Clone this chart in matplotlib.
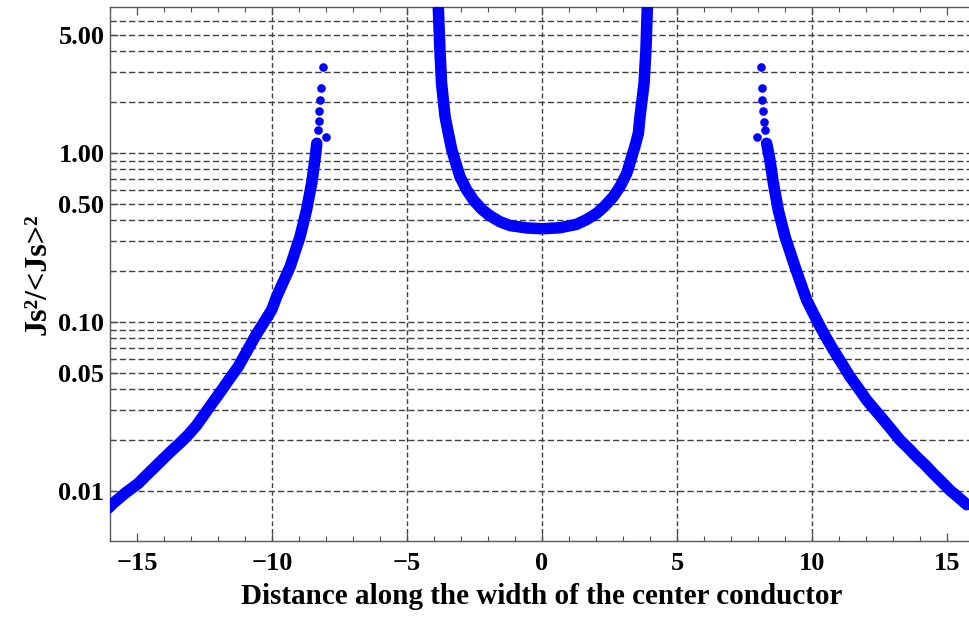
import numpy as np
import matplotlib.pyplot as plt
from matplotlib.ticker import FixedLocator, NullFormatter

# values (x along the strip, Js^2/<Js>^2)
left_x = [-16.07, -15.81, -15.44, -14.95, -14.64, -14.33, -14.03, -13.72, -13.41, -13.10,
          -12.79, -12.48, -12.17, -11.86, -11.56, -11.25, -10.94, -10.63, -10.32, -10.01,
          -9.83, -9.33, -8.96, -8.72, -8.53, -8.41, -8.34]
left_y = [0.0079, 0.00865, 0.0097, 0.0111, 0.01244, 0.0139, 0.0155, 0.0173, 0.0192, 0.0215,
          0.0245, 0.0288, 0.0338, 0.0396, 0.0464, 0.0544, 0.0667, 0.0819, 0.0982, 0.118,
          0.141, 0.212, 0.320, 0.460, 0.662, 0.91, 1.14]
left_tip_x = [-8.28, -8.26, -8.25, -8.22, -8.20, -8.10, -8.00]
left_tip_y = [1.37, 1.55, 1.76, 2.06, 2.41, 3.24, 1.24]

center_x = [-3.84, -3.78, -3.72, -3.59, -3.47, -3.34, -3.04, -2.79, -2.54, -2.23, -1.93,
            -1.56, -1.19, -0.57, 0.0, 0.67, 1.28, 1.65, 2.03, 2.33, 2.64, 2.89, 3.14,
            3.44, 3.57, 3.63, 3.78, 3.85, 3.90]
center_y = [7.2, 4.07, 2.58, 1.64, 1.31, 1.04, 0.724, 0.604, 0.527, 0.464, 0.425,
            0.392, 0.372, 0.360, 0.356, 0.361, 0.378, 0.403, 0.44, 0.486, 0.551, 0.632, 0.758,
            1.09, 1.31, 1.64, 2.58, 4.07, 7.2]

right_x = [8.32, 8.44, 8.57, 8.75, 9.00, 9.37, 9.80, 10.05, 10.30, 10.54, 10.79, 11.10,
           11.41, 11.72, 12.03, 12.33, 12.64, 12.95, 13.26, 13.57, 13.88, 14.19, 14.49,
           14.80, 15.11, 15.42, 15.73]
right_y = [1.14, 0.91, 0.662, 0.46, 0.32, 0.212, 0.135, 0.1125, 0.094, 0.080, 0.0684, 0.057,
           0.0474, 0.0405, 0.0344, 0.0302, 0.0264, 0.0230, 0.0200, 0.0179, 0.0159, 0.01426,
           0.0127, 0.01135, 0.0101, 0.00918, 0.0083]
right_tip_x = [8.26, 8.22, 8.20, 8.16, 8.14, 8.10, 7.95]
right_tip_y = [1.37, 1.53, 1.76, 2.06, 2.41, 3.24, 1.24]

x_major = [-15, -10, -5, 0, 5, 10, 15]
x_labels = ['\u221215', '\u221210', '\u22125', '0', '5', '10', '15']
x_grid = [-10, -5, 0, 5, 10]
y_major = [0.01, 0.05, 0.1, 0.5, 1.0, 5.0]
y_labels = ['0.01', '0.05', '0.10', '0.50', '1.00', '5.00']
y_grid = [0.01, 0.02, 0.03, 0.04, 0.05, 0.06, 0.07, 0.08, 0.09,
          0.1, 0.2, 0.3, 0.4, 0.5, 0.6, 0.7, 0.8, 0.9,
          1, 2, 3, 4, 5, 6]

plt.rcParams['font.family'] = ['Liberation Serif', 'DejaVu Serif']
plt.rcParams['font.weight'] = 'bold'

fig = plt.figure(figsize=(9.69, 6.21), dpi=100)
ax = fig.add_axes([110/969, 80/621, 864/969, 534/621])

# dashed grid, only the lines the original shows
for g in y_grid:
    ax.axhline(g, color='0.25', lw=1.0, dashes=(4.5, 2.2), zorder=1)
for g in x_grid:
    ax.axvline(g, color='0.25', lw=1.0, dashes=(3.5, 2.0), zorder=1)

blue = '#0000ff'
for xs, ys in [(left_x, left_y), (center_x, center_y), (right_x, right_y)]:
    ax.plot(xs, ys, '-', color=blue, lw=8.3, solid_capstyle='round',
            solid_joinstyle='round', zorder=3)
ax.plot(left_tip_x, left_tip_y, 'o', color=blue, ms=6.2, mew=0, zorder=3)
ax.plot(right_tip_x, right_tip_y, 'o', color=blue, ms=6.2, mew=0, zorder=3)

ax.set_yscale('log')
ax.set_xlim(-16, 16)
ax.set_ylim(0.00506, 7.3)

ax.xaxis.set_major_locator(FixedLocator(x_major))
ax.xaxis.set_minor_locator(FixedLocator(np.arange(-16, 17, 1)))
ax.set_xticklabels(x_labels)
ax.yaxis.set_major_locator(FixedLocator(y_major))
ax.yaxis.set_minor_locator(FixedLocator(y_grid))
ax.yaxis.set_minor_formatter(NullFormatter())
ax.set_yticklabels(y_labels)

ax.tick_params(axis='both', which='both', direction='in', top=True, right=False,
               labelsize=19, color='0.3')
ax.tick_params(axis='both', which='major', length=6, width=0.9)
ax.tick_params(axis='x', which='major', pad=8)
ax.tick_params(axis='y', which='major', pad=4)
ax.tick_params(axis='both', which='minor', length=3.5, width=0.8)
for s in ax.spines.values():
    s.set_color('0.35')
    s.set_linewidth(1.0)

ax.set_xlabel('Distance along the width of the center conductor', fontsize=21,
              fontweight='bold', labelpad=6)
ax.set_ylabel('Js\u00b2/<Js>\u00b2', fontsize=23, fontweight='bold', labelpad=4)

fig.savefig('out.png', dpi=100)
